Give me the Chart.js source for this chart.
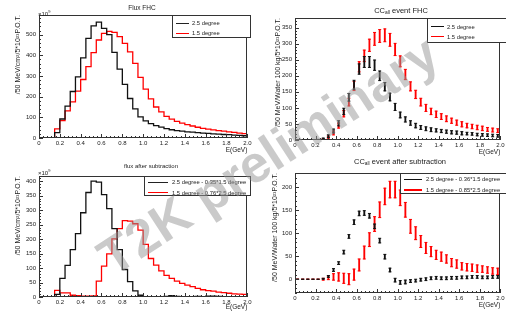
<!DOCTYPE html>
<html lang="en">
<head>
  <meta charset="UTF-8" />
  <title>T2K flux and CC_all events</title>
  <script src="https://cdn.jsdelivr.net/npm/chart.js"></script>
  <style>
    body {
      margin: 0;
      background: #fff;
      font-family: 'Liberation Sans', Arial, sans-serif;
      color: #222;
    }
    #page { position: relative; width: 506px; height: 322px; overflow: hidden; }
    .panel { position: absolute; width: 253px; height: 161px; }
    .panel canvas { display: block; }
    .title { position: absolute; transform: translate(-50%, -50%); white-space: nowrap; }
    .title sub { font-size: 65%; vertical-align: -1px; }
    .expo { position: absolute; font-size: 6px; line-height: 6px; }
    .legend { position: absolute; border: 1px solid #333; background: #fff; box-sizing: border-box; }
    .row { position: absolute; left: 0; height: 8px; line-height: 8px; font-size: 5.8px; white-space: nowrap; margin-top: -4px; }
    .row span { position: absolute; top: 3.5px; height: 1.3px; }
    .row b { position: absolute; font-weight: normal; }
    #wm {
      position: absolute; left: 268px; top: 155px;
      transform: translate(-50%, -50%) rotate(-33deg);
      font: bold 52px 'Liberation Sans', Arial, sans-serif;
      color: rgba(150,150,150,0.5);
      white-space: nowrap; pointer-events: none;
    }
  </style>
</head>
<body>
<div id="page">
  <div class="panel" style="left:0;top:0"><canvas id="c1" width="253" height="161"></canvas></div>
  <div class="panel" style="left:253px;top:0"><canvas id="c2" width="253" height="161"></canvas></div>
  <div class="panel" style="left:0;top:161px"><canvas id="c3" width="253" height="161"></canvas></div>
  <div class="panel" style="left:253px;top:161px"><canvas id="c4" width="253" height="161"></canvas></div>

  <div class="title" style="left:142px;top:6.5px;font-size:6.5px">Flux FHC</div>
  <div class="title" style="left:401px;top:10px;font-size:7.5px">CC<sub>all</sub> event FHC</div>
  <div class="title" style="left:151px;top:166px;font-size:6px">flux after subtraction</div>
  <div class="title" style="left:400px;top:161px;font-size:7.5px">CC<sub>all</sub> event after subtraction</div>

  <div class="expo" style="left:38px;top:9px">×10<sup style="font-size:4px">9</sup></div>
  <div class="expo" style="left:38px;top:168px">×10<sup style="font-size:4px">9</sup></div>

  <div class="legend" style="left:172px;top:15px;width:79px;height:23px">
    <div class="row" style="top:7px"><span style="left:3px;width:13px;background:#222"></span><b style="left:19px">2.5 degree</b></div>
    <div class="row" style="top:17px"><span style="left:3px;width:13px;background:#f00"></span><b style="left:19px">1.5 degree</b></div>
  </div>
  <div class="legend" style="left:427px;top:18px;width:82px;height:25px">
    <div class="row" style="top:7.5px"><span style="left:3px;width:13px;background:#111"></span><b style="left:19px">2.5 degree</b></div>
    <div class="row" style="top:17.5px"><span style="left:3px;width:13px;background:#f00"></span><b style="left:19px">1.5 degree</b></div>
  </div>
  <div class="legend" style="left:144px;top:176px;width:107px;height:20px">
    <div class="row" style="top:5px"><span style="left:3px;width:20px;background:#222"></span><b style="left:27px">2.5 degree - 0.35*1.5 degree</b></div>
    <div class="row" style="top:15.5px"><span style="left:3px;width:20px;background:#f00"></span><b style="left:27px">1.5 degree - 0.76*2.5 degree</b></div>
  </div>
  <div class="legend" style="left:400px;top:173px;width:110px;height:21px">
    <div class="row" style="top:5.3px"><span style="left:3px;width:18px;background:#111"></span><b style="left:25px">2.5 degree - 0.36*1.5 degree</b></div>
    <div class="row" style="top:16.3px"><span style="left:3px;width:18px;background:#f00;height:2px;top:3px"></span><b style="left:25px">1.5 degree - 0.85*2.5 degree</b></div>
  </div>

  <div id="wm">T2K preliminary</div>
</div>

<script>
  // bins: 40 bins of 0.05 GeV from 0 to 2 GeV
  const binWidth = 0.05;
  const xTickStep = 0.2;

  // Flux FHC (x10^9)
  const flux25 = [0,0,0,26,92,154,225,296,388,482,542,561,530,500,414,333,259,191,141,102,83,70,60,53,45,40,36,33,30,28,26,24,22,20,19,17,16,14,13,11];
  const flux15 = [0,0,0,44,84,131,175,227,283,345,413,474,506,516,511,490,458,417,361,293,236,189,150,126,105,91,80,72,65,58,52,47,43,39,36,33,30,27,24,21];
  const fluxTicks = [0, 100, 200, 300, 400, 500];

  // CC_all event FHC
  const cc25 = [0,0,0,0,1,4,12,28,52,89,133,172,221,243,243,233,200,166,134,103,78,64,53,45,39,35,32,30,28,26,24,23,21,20,19,17,16,15,14,13];
  const cc25Err = [0,0,0,0,1,2,4,6,8,10,12,14,16,17,17,16,15,13,12,11,9,8,7,7,6,6,6,5,5,5,5,5,5,4,4,4,4,4,4,4];
  const cc15 = [0,0,0,0,0,2,8,22,45,82,118,168,228,262,295,315,324,326,312,282,245,204,167,142,118,100,89,80,73,66,60,54,49,45,42,39,36,33,31,29];
  const cc15Err = [0,0,0,0,1,2,4,6,8,10,12,14,16,18,19,20,20,20,20,19,17,16,14,13,12,11,10,10,9,9,8,8,8,7,7,7,7,6,6,6];
  const ccTicks = [0, 50, 100, 150, 200, 250, 300, 350];

  // flux after subtraction (x10^9)
  const sub25 = [0,0,0,9,64,109,164,219,291,361,400,397,354,305,236,164,95,53,21,6,0,1,1,1,2,5,2,1,1,1,2,1,3,3,2,1,1,1,0,1];
  const sub15 = [0,0,0,23,14,14,6,5,3,3,4,55,107,149,201,236,264,262,253,231,182,133,110,90,75,64,55,47,41,36,30,25,22,20,17,15,13,11,10,9];
  const subTicks = [0, 50, 100, 150, 200, 250, 300, 350, 400];

  // CC_all event after subtraction
  const ccSub25 = [0,0,0,0,0,1,6,20,35,59,93,124,143,144,138,115,84,49,20,-2,-7,-6,-4,-3,-1,0,2,3,2,2,3,3,4,4,5,5,4,4,5,5];
  const ccSub25Err = [0,0,0,0,0,1,2,3,3,4,4,5,5,5,5,5,5,5,4,4,4,4,3,3,3,3,3,3,3,3,3,3,3,3,3,3,3,3,3,3];
  const ccSub15 = [0,0,0,0,0,0,3,5,5,2,0,10,31,58,86,120,151,180,195,195,177,151,115,100,82,68,60,53,49,44,36,33,28,26,25,23,22,20,18,17];
  const ccSub15Err = [0,0,0,0,0,2,4,7,9,11,12,12,13,14,15,16,17,18,18,18,17,16,15,14,13,12,11,10,10,9,9,9,8,8,8,8,7,7,7,7];
  const ccSubTicks = [0, 50, 100, 150, 200];

  const FONT = "'Liberation Sans', Arial, sans-serif";
  const INK = '#222';

  function histPoints(values) {
    const pts = values.map((v, i) => ({ x: i * binWidth, y: v }));
    pts.push({ x: values.length * binWidth, y: values[values.length - 1] });
    return pts;
  }
  function histSet(values, color) {
    return { type: 'line', data: histPoints(values), borderColor: color, borderWidth: 1.3,
      stepped: true, pointRadius: 0, fill: false, tension: 0 };
  }
  function errorSets(values, errs, color) {
    const centre = i => (i + 0.5) * binWidth;
    const cap = sign => values.map((v, i) => ({ x: centre(i), y: v + sign * errs[i] }));
    const capSet = sign => ({ type: 'scatter', data: cap(sign), pointStyle: 'line', pointRadius: 1.5,
      borderColor: color, backgroundColor: color, borderWidth: 1 });
    return [
      { type: 'bar', data: values.map((v, i) => ({ x: centre(i), y: [v - errs[i], v + errs[i]] })),
        backgroundColor: color, borderWidth: 0, barThickness: 1.2, grouped: false },
      capSet(1), capSet(-1)
    ];
  }

  // ROOT-like frame with inward ticks
  const rootFrame = {
    id: 'rootFrame',
    afterDraw(chart, args, o) {
      const { ctx, chartArea: a, scales: { x, y } } = chart;
      ctx.save();
      ctx.strokeStyle = '#333';
      ctx.lineWidth = 1;
      ctx.strokeRect(Math.round(a.left) + 0.5, Math.round(a.top) + 0.5,
        Math.round(a.right - a.left) - 1, Math.round(a.bottom - a.top) - 1);
      ctx.beginPath();
      const nx = Math.round((x.max - x.min) / o.xMinor);
      for (let k = 0; k <= nx; k++) {
        const v = x.min + k * o.xMinor;
        const major = k % o.xSub === 0;
        const px = Math.round(x.getPixelForValue(v)) + 0.5;
        ctx.moveTo(px, a.bottom);
        ctx.lineTo(px, a.bottom - (major ? 4 : 2));
      }
      const k0 = Math.ceil(y.min / o.yMinor);
      const k1 = Math.floor(y.max / o.yMinor);
      for (let k = k0; k <= k1; k++) {
        const major = ((k % o.ySub) + o.ySub) % o.ySub === 0;
        const py = Math.round(y.getPixelForValue(k * o.yMinor)) + 0.5;
        ctx.moveTo(a.left, py);
        ctx.lineTo(a.left + (major ? 4 : 2), py);
      }
      ctx.stroke();
      ctx.restore();
    }
  };

  function makeChart(id, type, datasets, p) {
    const yStep = p.yTicks[1] - p.yTicks[0];
    return new Chart(document.getElementById(id), {
      type: type,
      data: { datasets: datasets },
      plugins: [rootFrame],
      options: {
        responsive: false,
        animation: false,
        events: [],
        layout: { padding: { top: p.top, right: 2, left: 0, bottom: 0 } },
        plugins: {
          legend: { display: false },
          tooltip: { enabled: false },
          rootFrame: { xMinor: xTickStep / 5, xSub: 5, yMinor: yStep / 5, ySub: 5 }
        },
        scales: {
          x: {
            type: 'linear', min: 0, max: 2, offset: false,
            grid: { display: false, drawTicks: false }, border: { display: false },
            ticks: { stepSize: xTickStep, padding: 1.5, autoSkip: false, maxRotation: 0,
              includeBounds: false, color: INK, font: { size: 6, family: FONT } },
            title: { display: true, text: 'E(GeV)', align: 'end', color: INK,
              padding: { top: 0, bottom: p.xTitlePad }, font: { size: 6.5, family: FONT } },
            afterFit(s) { s.height = p.xHeight; }
          },
          y: {
            type: 'linear', min: p.yMin, max: p.yMax,
            grid: { display: false, drawTicks: false }, border: { display: false },
            afterBuildTicks(s) { s.ticks = p.yTicks.map(v => ({ value: v })); },
            ticks: { autoSkip: false, padding: 3, color: INK, font: { size: 6, family: FONT } },
            title: { display: true, text: p.yTitle, align: 'end', color: INK,
              padding: { top: p.yTitlePad, bottom: 0 }, font: { size: 7, family: FONT } },
            afterFit(s) { s.width = p.yWidth; }
          }
        }
      }
    });
  }

  const fluxTitle = '/50 MeV/cm²/5*10²¹P.O.T.';
  const eventTitle = '/50 MeV/Water 100 kg/5*10²¹P.O.T.';

  makeChart('c1', 'line', [histSet(flux25, '#111'), histSet(flux15, '#f00')],
    { top: 15, yMin: 0, yMax: 595, yTicks: fluxTicks, yWidth: 39, xHeight: 23, xTitlePad: 7,
      yTitle: fluxTitle, yTitlePad: 13.6 });

  makeChart('c2', 'scatter', [...errorSets(cc25, cc25Err, '#111'), ...errorSets(cc15, cc15Err, '#f00')],
    { top: 18, yMin: 0, yMax: 380, yTicks: ccTicks, yWidth: 42, xHeight: 21, xTitlePad: 5,
      yTitle: eventTitle, yTitlePad: 21 });

  makeChart('c3', 'line', [histSet(sub25, '#111'), histSet(sub15, '#f00')],
    { top: 15, yMin: 0, yMax: 418, yTicks: subTicks, yWidth: 39, xHeight: 25, xTitlePad: 10.4,
      yTitle: fluxTitle, yTitlePad: 13.6 });

  makeChart('c4', 'scatter', [...errorSets(ccSub25, ccSub25Err, '#111'), ...errorSets(ccSub15, ccSub15Err, '#f00')],
    { top: 12, yMin: -30, yMax: 231, yTicks: ccSubTicks, yWidth: 42, xHeight: 29, xTitlePad: 13,
      yTitle: eventTitle, yTitlePad: 17.8 });
</script>
</body>
</html>
